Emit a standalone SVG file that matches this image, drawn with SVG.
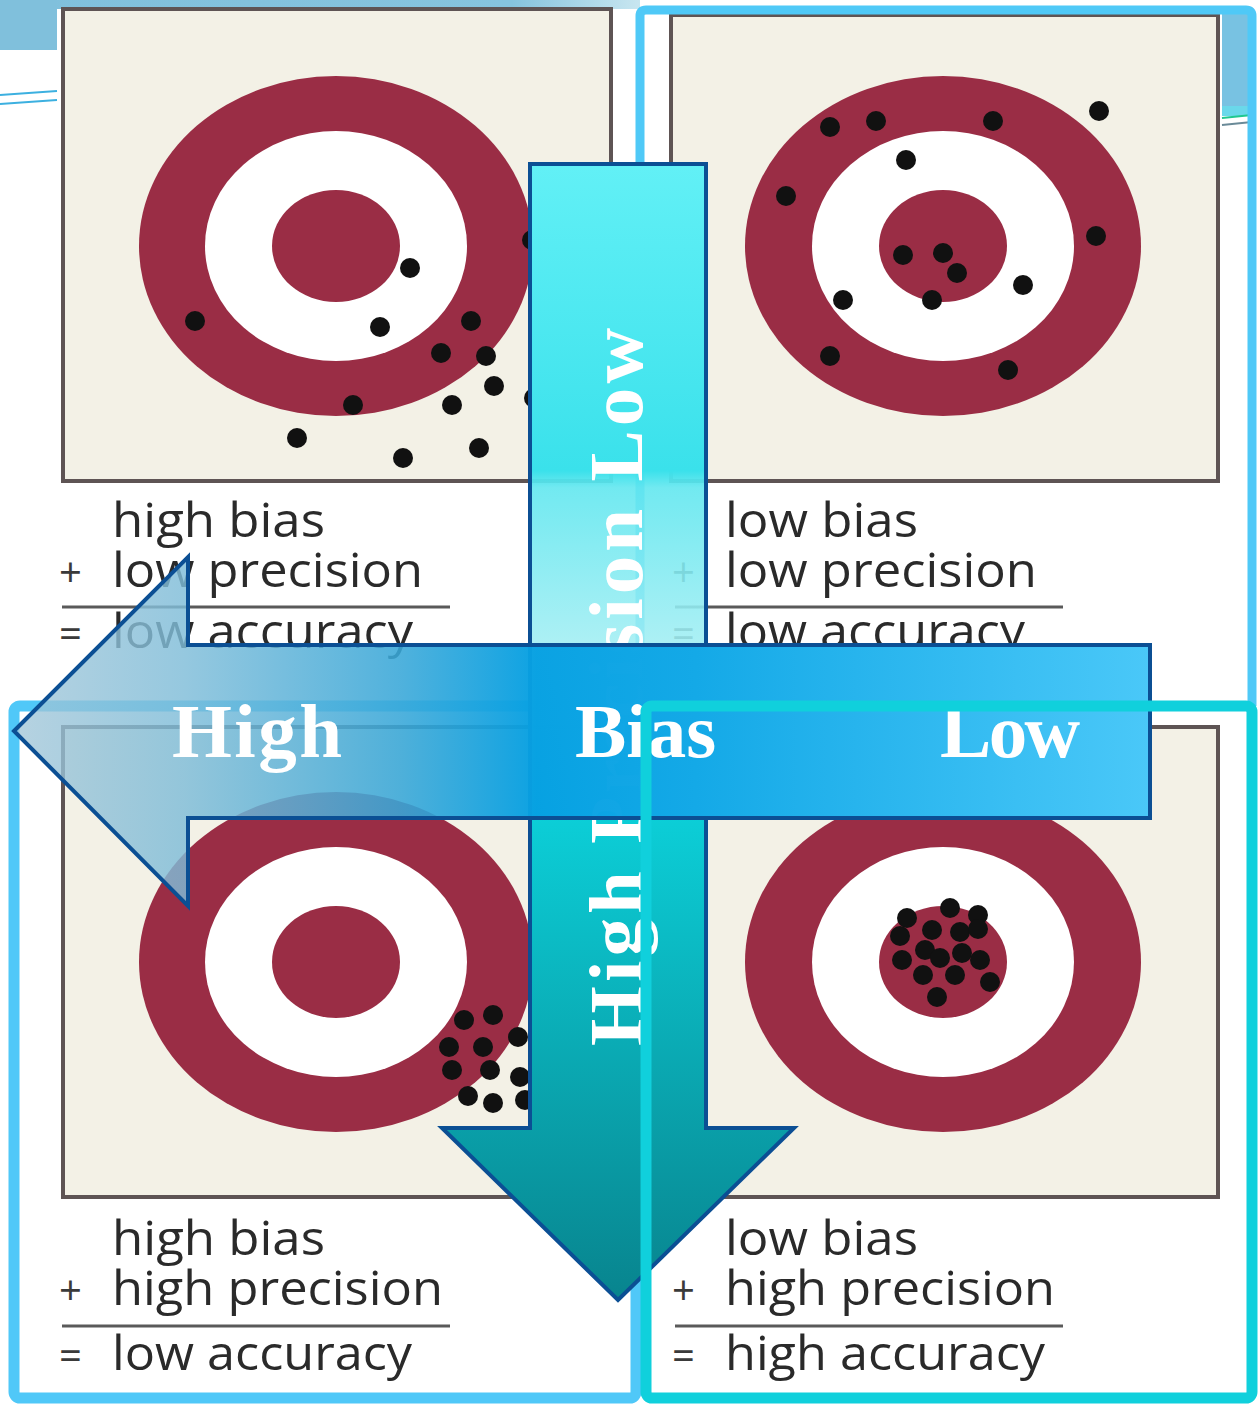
<svg xmlns="http://www.w3.org/2000/svg" width="1258" height="1404" viewBox="0 0 1258 1404">
<defs>
<style>
.frame{fill:#f3f1e6;stroke:#5e5454;stroke-width:4}
.ring{fill:#9a2d45}
.white{fill:#ffffff}
.dot{fill:#111111}
.lbl{font-family:"Open Sans","Liberation Sans",sans-serif;font-size:47px;fill:#2a2a2a}
.sym{font-family:"Open Sans","Liberation Sans",sans-serif;font-size:40px;fill:#3a3a3a}
.rule{stroke:#5a5a5a;stroke-width:3}
.big{font-family:"Liberation Serif","DejaVu Serif",serif;font-weight:bold;font-size:77px;fill:#ffffff}
.arrow{stroke:#0b4f94;stroke-width:4;stroke-linejoin:miter}
</style>
<linearGradient id="gv" gradientUnits="userSpaceOnUse" x1="0" y1="164" x2="0" y2="1300">
<stop offset="0" stop-color="#62f0f6"/>
<stop offset="0.27" stop-color="#3ae1eb"/>
<stop offset="0.285" stop-color="#62e7ef" stop-opacity="0.9"/>
<stop offset="0.42" stop-color="#a0eef3" stop-opacity="0.88"/>
<stop offset="0.57" stop-color="#0ccfd8"/>
<stop offset="1" stop-color="#08848e"/>
</linearGradient>
<linearGradient id="gh" gradientUnits="userSpaceOnUse" x1="14" y1="0" x2="1150" y2="0">
<stop offset="0" stop-color="#a2c6d8" stop-opacity="0.78"/>
<stop offset="0.15" stop-color="#7ebcd8" stop-opacity="0.82"/>
<stop offset="0.34" stop-color="#38a7d8" stop-opacity="0.88"/>
<stop offset="0.46" stop-color="#06a0e2" stop-opacity="0.97"/>
<stop offset="0.6" stop-color="#14a9e7"/>
<stop offset="1" stop-color="#4ac8f8"/>
</linearGradient>
<linearGradient id="gtop" x1="0" y1="0" x2="1" y2="0">
<stop offset="0" stop-color="#80c0dc"/>
<stop offset="0.8" stop-color="#86c4de"/>
<stop offset="1" stop-color="#c8e6f0"/>
</linearGradient>
</defs>

<rect x="0" y="0" width="1258" height="1404" fill="#ffffff"/>

<g id="decorations">
<rect x="0" y="0" width="640" height="9" fill="url(#gtop)"/>
<rect x="0" y="0" width="57" height="50" fill="#80c0dc"/>
<line x1="0" y1="95" x2="57" y2="91" stroke="#3cb0e0" stroke-width="2"/>
<line x1="0" y1="104" x2="57" y2="100" stroke="#3cb0e0" stroke-width="2"/>
<rect x="1222" y="12" width="30" height="98" fill="#78c2e2"/>
<rect x="1222" y="106" width="30" height="10" fill="#6ad8ea"/>
<line x1="1222" y1="118" x2="1252" y2="115" stroke="#20c890" stroke-width="2"/>
<line x1="1222" y1="125" x2="1252" y2="122" stroke="#6a8a98" stroke-width="2"/>
</g>

<g id="panel-tl">
<rect class="frame" x="63" y="9" width="548" height="472"/>
<ellipse class="ring" cx="336" cy="246" rx="197" ry="170"/>
<ellipse class="white" cx="336" cy="246" rx="131" ry="115"/>
<ellipse class="ring" cx="336" cy="246" rx="64" ry="56"/>
<circle class="dot" cx="410" cy="268" r="10"/>
<circle class="dot" cx="380" cy="327" r="10"/>
<circle class="dot" cx="195" cy="321" r="10"/>
<circle class="dot" cx="471" cy="321" r="10"/>
<circle class="dot" cx="441" cy="353" r="10"/>
<circle class="dot" cx="486" cy="356" r="10"/>
<circle class="dot" cx="353" cy="405" r="10"/>
<circle class="dot" cx="494" cy="386" r="10"/>
<circle class="dot" cx="452" cy="405" r="10"/>
<circle class="dot" cx="297" cy="438" r="10"/>
<circle class="dot" cx="403" cy="458" r="10"/>
<circle class="dot" cx="479" cy="448" r="10"/>
<circle class="dot" cx="532" cy="240" r="10"/>
<circle class="dot" cx="534" cy="398" r="10"/>
<text class="lbl" x="112" y="537" textLength="213" lengthAdjust="spacingAndGlyphs">high bias</text>
<text class="sym" x="59" y="587">+</text>
<text class="lbl" x="112" y="587" textLength="311" lengthAdjust="spacingAndGlyphs">low precision</text>
<line class="rule" x1="62" y1="607" x2="450" y2="607"/>
<text class="sym" x="59" y="648">=</text>
<text class="lbl" x="112" y="648" textLength="301" lengthAdjust="spacingAndGlyphs">low accuracy</text>
</g>

<g id="panel-tr">
<rect class="frame" x="671" y="15" width="547" height="466"/>
<ellipse class="ring" cx="943" cy="246" rx="198" ry="170"/>
<ellipse class="white" cx="943" cy="246" rx="131" ry="115"/>
<ellipse class="ring" cx="943" cy="246" rx="64" ry="56"/>
<circle class="dot" cx="830" cy="127" r="10"/>
<circle class="dot" cx="876" cy="121" r="10"/>
<circle class="dot" cx="993" cy="121" r="10"/>
<circle class="dot" cx="1099" cy="111" r="10"/>
<circle class="dot" cx="906" cy="160" r="10"/>
<circle class="dot" cx="786" cy="196" r="10"/>
<circle class="dot" cx="1096" cy="236" r="10"/>
<circle class="dot" cx="903" cy="255" r="10"/>
<circle class="dot" cx="943" cy="253" r="10"/>
<circle class="dot" cx="957" cy="273" r="10"/>
<circle class="dot" cx="932" cy="300" r="10"/>
<circle class="dot" cx="843" cy="300" r="10"/>
<circle class="dot" cx="1023" cy="285" r="10"/>
<circle class="dot" cx="830" cy="356" r="10"/>
<circle class="dot" cx="1008" cy="370" r="10"/>
<text class="lbl" x="725" y="537" textLength="193" lengthAdjust="spacingAndGlyphs">low bias</text>
<text class="sym" x="672" y="587">+</text>
<text class="lbl" x="725" y="587" textLength="312" lengthAdjust="spacingAndGlyphs">low precision</text>
<line class="rule" x1="675" y1="607" x2="1063" y2="607"/>
<text class="sym" x="672" y="648">=</text>
<text class="lbl" x="725" y="648" textLength="300" lengthAdjust="spacingAndGlyphs">low accuracy</text>
</g>

<g id="panel-bl">
<rect class="frame" x="63" y="727" width="548" height="470"/>
<ellipse class="ring" cx="336" cy="962" rx="197" ry="170"/>
<ellipse class="white" cx="336" cy="962" rx="131" ry="115"/>
<ellipse class="ring" cx="336" cy="962" rx="64" ry="56"/>
<circle class="dot" cx="464" cy="1020" r="10"/>
<circle class="dot" cx="493" cy="1015" r="10"/>
<circle class="dot" cx="518" cy="1037" r="10"/>
<circle class="dot" cx="449" cy="1047" r="10"/>
<circle class="dot" cx="483" cy="1047" r="10"/>
<circle class="dot" cx="452" cy="1070" r="10"/>
<circle class="dot" cx="490" cy="1070" r="10"/>
<circle class="dot" cx="520" cy="1077" r="10"/>
<circle class="dot" cx="468" cy="1096" r="10"/>
<circle class="dot" cx="493" cy="1103" r="10"/>
<circle class="dot" cx="525" cy="1100" r="10"/>
<text class="lbl" x="112" y="1255" textLength="213" lengthAdjust="spacingAndGlyphs">high bias</text>
<text class="sym" x="59" y="1305">+</text>
<text class="lbl" x="112" y="1305" textLength="331" lengthAdjust="spacingAndGlyphs">high precision</text>
<line class="rule" x1="62" y1="1326" x2="450" y2="1326"/>
<text class="sym" x="59" y="1370">=</text>
<text class="lbl" x="112" y="1370" textLength="300" lengthAdjust="spacingAndGlyphs">low accuracy</text>
</g>

<g id="panel-br">
<rect class="frame" x="671" y="727" width="547" height="470"/>
<ellipse class="ring" cx="943" cy="962" rx="198" ry="170"/>
<ellipse class="white" cx="943" cy="962" rx="131" ry="115"/>
<ellipse class="ring" cx="943" cy="962" rx="64" ry="56"/>
<circle class="dot" cx="950" cy="908" r="10"/>
<circle class="dot" cx="907" cy="918" r="10"/>
<circle class="dot" cx="978" cy="915" r="10"/>
<circle class="dot" cx="932" cy="930" r="10"/>
<circle class="dot" cx="960" cy="932" r="10"/>
<circle class="dot" cx="978" cy="929" r="10"/>
<circle class="dot" cx="900" cy="936" r="10"/>
<circle class="dot" cx="925" cy="950" r="10"/>
<circle class="dot" cx="940" cy="958" r="10"/>
<circle class="dot" cx="962" cy="953" r="10"/>
<circle class="dot" cx="980" cy="960" r="10"/>
<circle class="dot" cx="902" cy="960" r="10"/>
<circle class="dot" cx="923" cy="975" r="10"/>
<circle class="dot" cx="955" cy="975" r="10"/>
<circle class="dot" cx="990" cy="982" r="10"/>
<circle class="dot" cx="937" cy="997" r="10"/>
<text class="lbl" x="725" y="1255" textLength="193" lengthAdjust="spacingAndGlyphs">low bias</text>
<text class="sym" x="672" y="1305">+</text>
<text class="lbl" x="725" y="1305" textLength="330" lengthAdjust="spacingAndGlyphs">high precision</text>
<line class="rule" x1="675" y1="1326" x2="1063" y2="1326"/>
<text class="sym" x="672" y="1370">=</text>
<text class="lbl" x="725" y="1370" textLength="320" lengthAdjust="spacingAndGlyphs">high accuracy</text>
</g>

<g id="borders-under">
<path d="M640,660 L640,16 Q640,10 646,10 L1246,10 Q1252,10 1252,16 L1252,706" fill="none" stroke="#4fc9f7" stroke-width="9"/>
<rect x="14" y="706" width="622" height="692" rx="6" fill="none" stroke="#50c8f8" stroke-width="11"/>
</g>

<g id="connectors">
<g id="arrow-precision">
<path class="arrow" d="M530,164 L706,164 L706,1128 L794,1128 L618,1300 L442,1128 L530,1128 Z" fill="url(#gv)"/>
<text class="big" transform="translate(642,1046) rotate(-90)" textLength="718" lengthAdjust="spacing">High Precision Low</text>
</g>
<g id="arrow-bias">
<path class="arrow" d="M14,731 L188,557 L188,645 L1150,645 L1150,818 L188,818 L188,906 Z" fill="url(#gh)"/>
<text class="big" x="172" y="757" textLength="170">High</text>
<text class="big" x="575" y="757">Bias</text>
<text class="big" x="940" y="757" textLength="140">Low</text>
</g>
</g>

<g id="border-br">
<rect x="646" y="706" width="606" height="692" rx="6" fill="none" stroke="#10d0dc" stroke-width="11"/>
</g>
</svg>
